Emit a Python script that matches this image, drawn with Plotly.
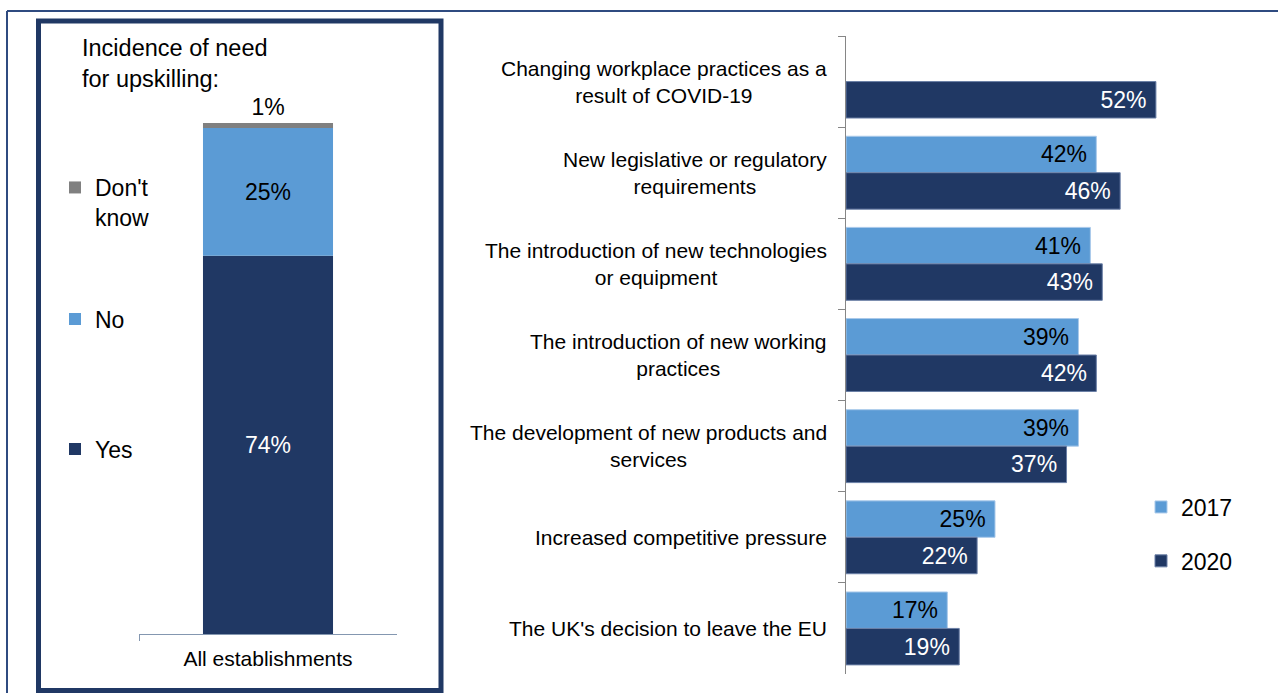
import plotly.graph_objects as go

# ---- data -------------------------------------------------------------
group_label = ["All establishments"]
need_labels = ["Yes", "No", "Don't know"]
need_values = [74, 25, 1]

drivers = [
    "Changing workplace practices as a<br>result of COVID-19",
    "New legislative or regulatory<br>requirements",
    "The introduction of new technologies<br>or equipment",
    "The introduction of new working<br>practices",
    "The development of new products and<br>services",
    "Increased competitive pressure",
    "The UK's decision to leave the EU",
]
share_2017 = [None, 42, 41, 39, 39, 25, 17]
share_2020 = [52, 46, 43, 42, 37, 22, 19]

# ---- styling ----------------------------------------------------------
NAVY = "#203864"
LIGHT = "#5B9BD5"
GREY = "#808080"
FONT = "Arial, Liberation Sans, sans-serif"
W, H = 1278, 693


def px(x):
    return x / W


def py(y):
    return 1 - y / H


fig = go.Figure()

# stacked single bar on the left (bases accumulate from the values)
need_colors = [NAVY, LIGHT, GREY]
need_text_colors = ["white", "black", "black"]
need_legends = ["legend3", "legend2", "legend"]
base = 0
for i, (lab, val) in enumerate(zip(need_labels, need_values)):
    fig.add_trace(go.Bar(
        x=group_label, y=[val], base=[base],
        name=lab.replace(" ", "<br>") if lab == "Don't know" else lab,
        marker=dict(color=need_colors[i], line=dict(width=0)),
        width=0.504, offsetgroup="need",
        text=[f"{val}%"],
        textposition="outside" if i == len(need_values) - 1 else "inside",
        insidetextanchor="middle", constraintext="none", cliponaxis=False,
        textfont=dict(family=FONT, size=23, color=need_text_colors[i]),
        outsidetextfont=dict(family=FONT, size=23, color="black"),
        legend=need_legends[i],
        xaxis="x", yaxis="y", hoverinfo="skip",
    ))
    base += val

# grouped horizontal bars on the right
fig.add_trace(go.Bar(
    y=drivers, x=share_2017, orientation="h", name="2017",
    marker=dict(color=LIGHT, line=dict(width=1, color="#A9C9EA")),
    width=0.4, offset=-0.4,
    texttemplate="%{x}%\u00a0", textposition="inside", insidetextanchor="end",
    constraintext="none",
    textfont=dict(family=FONT, size=23, color="black"),
    legend="legend4", legendgroup="a",
    xaxis="x2", yaxis="y2", hoverinfo="skip",
))
fig.add_trace(go.Bar(
    y=drivers, x=share_2020, orientation="h", name="2020",
    marker=dict(color=NAVY, line=dict(width=1, color="#6A7FA6")),
    width=0.4, offset=0,
    texttemplate="%{x}%\u00a0", textposition="inside", insidetextanchor="end",
    constraintext="none",
    textfont=dict(family=FONT, size=23, color="white"),
    legend="legend4", legendgroup="b",
    xaxis="x2", yaxis="y2", hoverinfo="skip",
))

# category labels, centred over two lines and right-aligned to the axis
annotations = []
for d in drivers:
    annotations.append(dict(
        x=px(829), xref="paper", xanchor="right",
        y=d, yref="y2", yanchor="middle",
        text=d, showarrow=False, align="center",
        font=dict(family=FONT, size=21, color="black"),
    ))

annotations.append(dict(
    x=px(80), xref="paper", xanchor="left",
    y=py(33), yref="paper", yanchor="top",
    text="Incidence of need<br>for upskilling:", showarrow=False, align="left",
    font=dict(family=FONT, size=23.5, color="black"),
))

shapes = [
    # outer frame
    dict(type="line", xref="paper", yref="paper", x0=px(7), x1=1, y0=py(11), y1=py(11),
         line=dict(color="#2F4B80", width=2)),
    dict(type="line", xref="paper", yref="paper", x0=px(7), x1=px(7), y0=py(11), y1=0,
         line=dict(color="#2F4B80", width=2)),
    # panel around the left chart
    dict(type="rect", xref="paper", yref="paper", x0=px(38.5), x1=px(441), y0=py(21), y1=py(690.5),
         line=dict(color="#203864", width=5)),
]

leg_font = dict(family=FONT, size=23, color="black")
fig.update_layout(
    width=W, height=H,
    margin=dict(l=0, r=0, t=0, b=0),
    paper_bgcolor="white", plot_bgcolor="white",
    barmode="overlay",
    font=dict(family=FONT, color="black"),
    xaxis=dict(domain=[px(139), px(397)], anchor="y", type="category",
               showline=True, linecolor="#8497B0", linewidth=1,
               ticks="outside", tickson="boundaries", ticklen=6, tickcolor="#8497B0",
               ticklabelstandoff=6,
               tickfont=dict(family=FONT, size=21, color="black"),
               showgrid=False, zeroline=False, fixedrange=True),
    yaxis=dict(domain=[py(634), py(123)], anchor="x", range=[0, 100],
               visible=False, fixedrange=True),
    xaxis2=dict(domain=[px(846), px(846 + 5.96 * 60)], anchor="y2", range=[0, 60],
                visible=False, fixedrange=True),
    yaxis2=dict(domain=[py(674), py(36)], anchor="x2", type="category",
                autorange="reversed",
                showline=True, linecolor="#868686", linewidth=1,
                ticks="outside", tickson="boundaries", ticklen=7, tickcolor="#868686",
                showticklabels=False, showgrid=False, zeroline=False, fixedrange=True),
    legend=dict(x=px(55), y=py(166), xanchor="left", yanchor="top", valign="top",
                font=leg_font, bgcolor="rgba(0,0,0,0)"),
    legend2=dict(x=px(55), y=py(319), xanchor="left", yanchor="middle",
                 font=leg_font, bgcolor="rgba(0,0,0,0)"),
    legend3=dict(x=px(55), y=py(449), xanchor="left", yanchor="middle",
                 font=leg_font, bgcolor="rgba(0,0,0,0)"),
    legend4=dict(x=px(1141), y=py(534), xanchor="left", yanchor="middle",
                 tracegroupgap=21, font=leg_font, bgcolor="rgba(0,0,0,0)"),
    annotations=annotations,
    shapes=shapes,
    showlegend=True,
)

fig.write_html("out.html")
